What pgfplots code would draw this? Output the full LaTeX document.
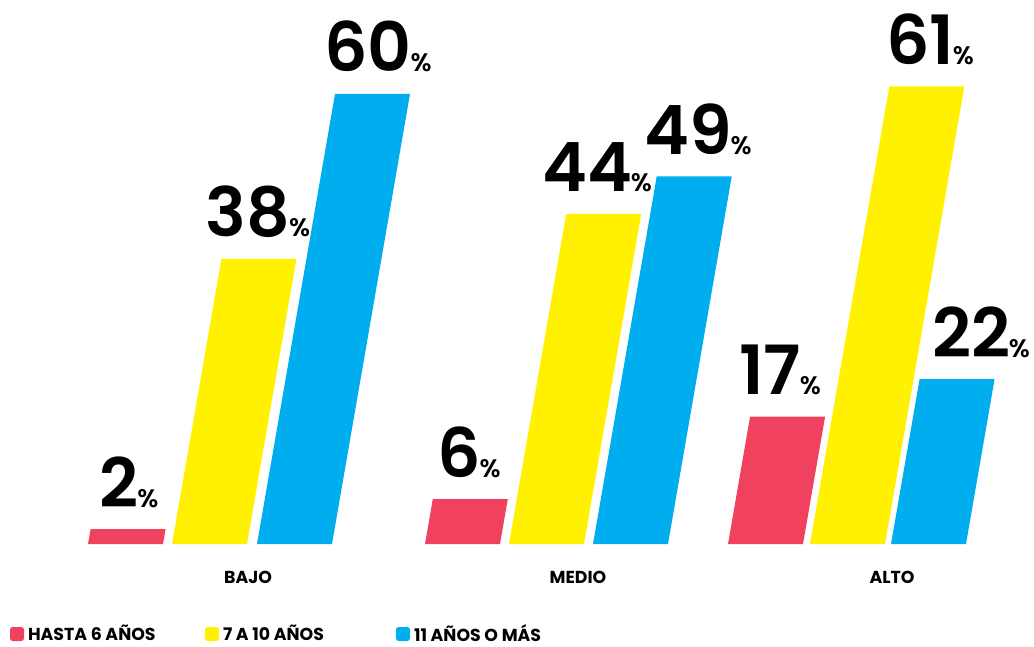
\documentclass[border=0pt]{standalone}
\usepackage{pgfplots}
\pgfplotsset{compat=1.18}
\usepackage{fontspec}
\setmainfont{Poppins}[BoldFont={Poppins SemiBold}]
\newfontfamily\pbf{Poppins}
\definecolor{cRed}{HTML}{F0415F}
\definecolor{cYel}{HTML}{FFF100}
\definecolor{cBlu}{HTML}{00AEEF}
% big value with a small percent sign
\newcommand{\pv}[1]{{\fontsize{51}{51}\selectfont #1}\hspace{-1pt}{\fontsize{19}{19}\selectfont\%}}
\tikzset{lbl/.style={anchor=base, font=\bfseries, inner sep=0pt, yshift=16.5pt}}

\begin{document}
\begin{tikzpicture}
\begin{axis}[
    scale only axis,
    width=775.5pt, height=408pt,
    xmin=0, xmax=1034, ymin=0, ymax=72.53,
    clip=false,
    axis line style={draw=none},
    tick style={draw=none},
    ytick=\empty,
    xtick={248,578,892},
    xticklabels={BAJO,MEDIO,ALTO},
    xticklabel style={font=\fontsize{13}{13}\selectfont\pbf\bfseries, anchor=center, yshift=-24.75pt},
    legend columns=3,
    legend style={at={(axis cs:10,-12.0)}, anchor=west, draw=none, fill=none,
        inner sep=0pt, outer sep=0pt, font=\fontsize{13}{13}\selectfont\pbf\bfseries,
        nodes={inner sep=0pt}, cells={anchor=west},
        /tikz/every odd column/.style={column sep=3pt}},
    legend image code/.code={\fill[#1, rounded corners=2pt] (0pt,-5.25pt) rectangle (10.5pt,5.25pt);},
]
% slanted bars: bottom edge, then top edge shifted right
\addplot[fill=cRed, draw=none] coordinates {(88,0) (163,0) (165.6,2) (90.6,2)} --cycle;
\addlegendentry{\makebox[132.75pt][l]{HASTA 6 AÑOS}}
\addplot[fill=cYel, draw=none] coordinates {(172,0) (247,0) (296.4,38) (221.4,38)} --cycle;
\addlegendentry{\makebox[129.75pt][l]{7 A 10 AÑOS}}
\addplot[fill=cBlu, draw=none] coordinates {(257,0) (332,0) (410,60) (335,60)} --cycle;
\addlegendentry{11 AÑOS O MÁS}

\addplot[fill=cRed, draw=none, forget plot] coordinates {(425,0) (500,0) (507.8,6) (432.8,6)} --cycle;
\addplot[fill=cYel, draw=none, forget plot] coordinates {(509,0) (584,0) (641.2,44) (566.2,44)} --cycle;
\addplot[fill=cBlu, draw=none, forget plot] coordinates {(593,0) (668,0) (731.7,49) (656.7,49)} --cycle;

\addplot[fill=cRed, draw=none, forget plot] coordinates {(728,0) (803,0) (825.1,17) (750.1,17)} --cycle;
\addplot[fill=cYel, draw=none, forget plot] coordinates {(810,0) (885,0) (964.3,61) (889.3,61)} --cycle;
\addplot[fill=cBlu, draw=none, forget plot] coordinates {(891,0) (966,0) (994.6,22) (919.6,22)} --cycle;

\node[lbl] at (axis cs:129,2) {\pv{2}};
\node[lbl] at (axis cs:258,38) {\pv{38}};
\node[lbl] at (axis cs:378,60) {\pv{60}};
\node[lbl] at (axis cs:469,6) {\pv{6}};
\node[lbl] at (axis cs:597,44) {\pv{44}};
\node[lbl] at (axis cs:698,49) {\pv{49}};
\node[lbl] at (axis cs:780,17) {\pv{17}};
\node[lbl] at (axis cs:930,61) {\pv{61}};
\node[lbl] at (axis cs:981,22) {\pv{22}};

\coordinate (bl) at (axis cs:0,-13.73);
\coordinate (tr) at (axis cs:1034,72.53);
\end{axis}
\pgfresetboundingbox
\path[use as bounding box] (bl) rectangle (tr);
\end{tikzpicture}
\end{document}
